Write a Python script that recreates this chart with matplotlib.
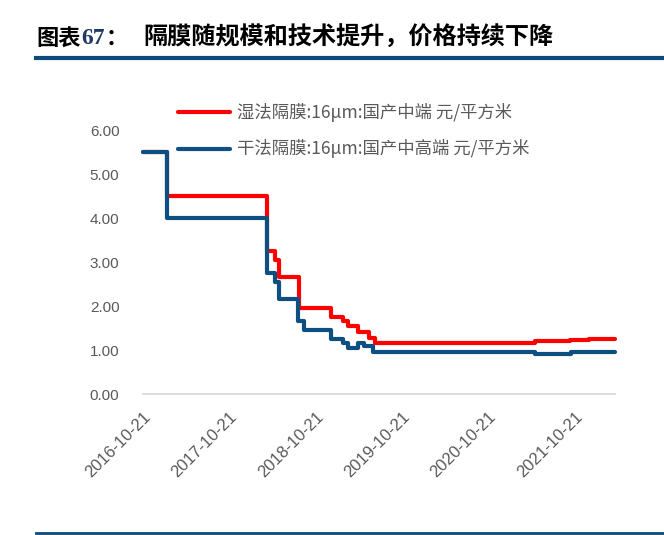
import pandas as pd
import matplotlib.pyplot as plt
import matplotlib.transforms as mtransforms
from matplotlib.lines import Line2D

plt.rcParams['font.family'] = ['Noto Sans CJK SC', 'DejaVu Sans']

# 湿法隔膜 16μm 国产中端（元/平方米）
wet_dates = ['2016-10-21', '2017-02-01', '2018-03-28', '2018-05-01', '2018-05-21',
             '2018-08-12', '2018-12-27', '2019-02-15', '2019-03-08', '2019-04-20',
             '2019-06-03', '2019-07-01', '2021-05-07', '2021-10-01', '2021-12-20',
             '2022-04-10']
wet_price = [5.50, 4.50, 3.25, 3.05, 2.65, 1.95, 1.75, 1.65, 1.55, 1.40,
             1.27, 1.15, 1.20, 1.22, 1.25, 1.25]

# 干法隔膜 16μm 国产中高端（元/平方米）
dry_dates = ['2016-10-21', '2017-02-01', '2018-03-28', '2018-05-01', '2018-05-21',
             '2018-08-08', '2018-09-03', '2018-12-27', '2019-02-15', '2019-03-08',
             '2019-04-20', '2019-05-12', '2019-06-20', '2021-05-07', '2021-10-05',
             '2022-04-10']
dry_price = [5.50, 4.00, 2.75, 2.55, 2.15, 1.65, 1.45, 1.25, 1.15, 1.05,
             1.15, 1.10, 0.95, 0.90, 0.95, 0.95]

tick_dates = ['2016-10-21', '2017-10-21', '2018-10-21', '2019-10-21',
              '2020-10-21', '2021-10-21']
y_ticks = [0, 1, 2, 3, 4, 5, 6]

wet_label = '湿法隔膜:16μm:国产中端 元/平方米'
dry_label = '干法隔膜:16μm:国产中高端 元/平方米'

red = '#FF0000'
blue = '#0D4F80'
grey_txt = '#595959'

W, H = 664, 535
fig = plt.figure(figsize=(W / 100, H / 100), dpi=100)

# plot area in pixels: left 143, right 615, zero at 394, 6.00 at 130
ax = fig.add_axes([143 / W, 1 - 394 / H, (615 - 143) / W, (394 - 130) / H])

wd = pd.to_datetime(wet_dates)
dd = pd.to_datetime(dry_dates)
ax.step(wd, wet_price, where='post', color=red, lw=3,
        solid_capstyle='round', solid_joinstyle='round', clip_on=False)
ax.step(dd, dry_price, where='post', color=blue, lw=3,
        solid_capstyle='round', solid_joinstyle='round', clip_on=False)

ax.set_xlim(pd.Timestamp('2016-10-21'), pd.Timestamp('2022-04-10'))
ax.set_ylim(0, 6)
ax.set_yticks(y_ticks)
ax.set_yticklabels([f'{v:.2f}' for v in y_ticks], family='Liberation Sans',
                   fontsize=11, color=grey_txt)
ax.set_xticks(pd.to_datetime(tick_dates))
ax.set_xticklabels(tick_dates, rotation=45, ha='right', va='top',
                   rotation_mode='anchor', family='Liberation Sans',
                   fontsize=12, color=grey_txt)
shift = mtransforms.ScaledTranslation(-6 / 100, -2 / 100, fig.dpi_scale_trans)
for lab in ax.get_xticklabels():
    lab.set_transform(lab.get_transform() + shift)
ax.tick_params(axis='y', length=0, pad=17)
ax.tick_params(axis='x', length=0, pad=11)

for s in ['top', 'right', 'left']:
    ax.spines[s].set_visible(False)
ax.spines['bottom'].set_color('#D9D9D9')
ax.spines['bottom'].set_linewidth(1.3)
ax.spines['bottom'].set_zorder(0)

# legend, drawn in figure pixels
for yy, col, lab in [(112, red, wet_label), (149, blue, dry_label)]:
    fig.add_artist(Line2D([178 / W, 230 / W], [1 - yy / H, 1 - yy / H], color=col,
                          lw=3, solid_capstyle='round'))
    fig.text(237 / W, 1 - yy / H, lab, fontsize=12.5, color=grey_txt, va='center')

# title and rules
ty = 1 - 38 / H
fig.text(36 / W, ty, '图表', fontsize=16, fontweight='bold', va='center')
fig.text(81 / W, ty, '67', fontsize=17, fontweight='bold', va='center',
         family='Liberation Serif', color='#1F3864')
fig.text(106 / W, ty, '：', fontsize=16, fontweight='bold', va='center')
fig.text(143 / W, ty, '隔膜随规模和技术提升，价格持续下降', fontsize=17.4,
         fontweight='bold', va='center')
fig.add_artist(Line2D([36 / W, 1], [1 - 58 / H, 1 - 58 / H], color='#0B4A7A', lw=3))
fig.add_artist(Line2D([36 / W, 1], [1 - 533 / H, 1 - 533 / H], color='#0B4A7A', lw=2))

fig.savefig('out.png', dpi=100)
